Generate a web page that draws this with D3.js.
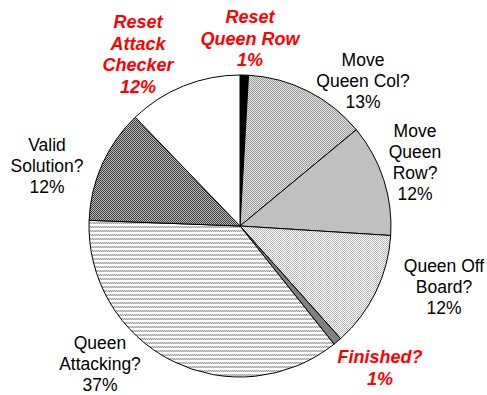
<!DOCTYPE html>
<html>
<head>
<meta charset="utf-8">
<script src="https://cdn.jsdelivr.net/npm/d3@7"></script>
<style>
  html, body { margin: 0; padding: 0; background: #fff; }
  svg { display: block; }
</style>
</head>
<body>
<svg id="chart" width="487" height="395"></svg>
<script>
// ---- data ----
const categories = ["Reset\nQueen Row", "Move\nQueen Col?", "Move\nQueen\nRow?", "Queen Off\nBoard?",
                    "Finished?", "Queen\nAttacking?", "Valid\nSolution?", "Reset\nAttack\nChecker"];
const values = [0.9, 13.1, 12.0, 12.4, 0.9, 36.3, 12.2, 12.2];
const pctLabels = ["1%", "13%", "12%", "12%", "1%", "37%", "12%", "12%"];
const highlighted = [true, false, false, false, true, false, false, true];

// ---- layout / style ----
const W = 487, H = 395;
const cx = 240, cy = 226, R = 151;
const fills = ["#000", "url(#pMoveCol)", "#c0c0c0", "url(#pOffBoard)", "#808080",
               "url(#pAttack)", "url(#pValid)", "#fff"];
// label anchor: centre x, first baseline y
const labelPos = [[250, 23], [363, 66], [415, 137], [444, 272], [380, 363], [100, 349], [47, 151], [138, 28]];

const svg = d3.select("#chart");
const defs = svg.append("defs");

function checker(id, c1, c2) {
  const p = defs.append("pattern").attr("id", id).attr("patternUnits", "userSpaceOnUse")
    .attr("width", 2).attr("height", 2);
  p.append("rect").attr("width", 2).attr("height", 2).attr("fill", c1);
  p.append("rect").attr("width", 1).attr("height", 1).attr("fill", c2);
  p.append("rect").attr("x", 1).attr("y", 1).attr("width", 1).attr("height", 1).attr("fill", c2);
}
checker("pMoveCol", "#e4e4e4", "#9a9a9a");
checker("pOffBoard", "#ffffff", "#b4b4b4");
checker("pValid", "#bdbdbd", "#3a3a3a");
{
  const p = defs.append("pattern").attr("id", "pAttack").attr("patternUnits", "userSpaceOnUse")
    .attr("width", 2).attr("height", 4);
  p.append("rect").attr("width", 2).attr("height", 4).attr("fill", "#fff");
  p.append("rect").attr("x", 0).attr("y", 0).attr("width", 1).attr("height", 1).attr("fill", "#a0a0a0");
  p.append("rect").attr("x", 1).attr("y", 1).attr("width", 1).attr("height", 1).attr("fill", "#a0a0a0");
  p.append("rect").attr("x", 1).attr("y", 0).attr("width", 1).attr("height", 1).attr("fill", "#d8d8d8");
  p.append("rect").attr("x", 0).attr("y", 1).attr("width", 1).attr("height", 1).attr("fill", "#d8d8d8");
}

const pie = d3.pie().sort(null).value(d => d);
const arc = d3.arc().innerRadius(0).outerRadius(R);
const arcs = pie(values);

const g = svg.append("g").attr("transform", `translate(${cx},${cy})`);
g.selectAll("path").data(arcs).join("path")
  .attr("d", arc)
  .attr("fill", (d, i) => fills[i])
  .attr("stroke", "#000")
  .attr("stroke-width", 1)
  .attr("stroke-linejoin", "round");

// ---- labels ----
categories.forEach((cat, i) => {
  const lines = cat.split("\n").concat([pctLabels[i]]);
  const red = highlighted[i];
  const lh = red ? 21.5 : 21;
  const t = svg.append("text")
    .attr("text-anchor", "middle")
    .attr("font-family", "'Liberation Sans', Arial, Helvetica, sans-serif")
    .attr("font-size", red ? 18 : 17.5)
    .attr("font-weight", red ? "bold" : "normal")
    .attr("font-style", red ? "italic" : "normal")
    .attr("fill", red ? "#ff0000" : "#000");
  lines.forEach((ln, j) => {
    t.append("tspan").attr("x", labelPos[i][0]).attr("y", labelPos[i][1] + j * lh).text(ln);
  });
});
</script>
</body>
</html>
